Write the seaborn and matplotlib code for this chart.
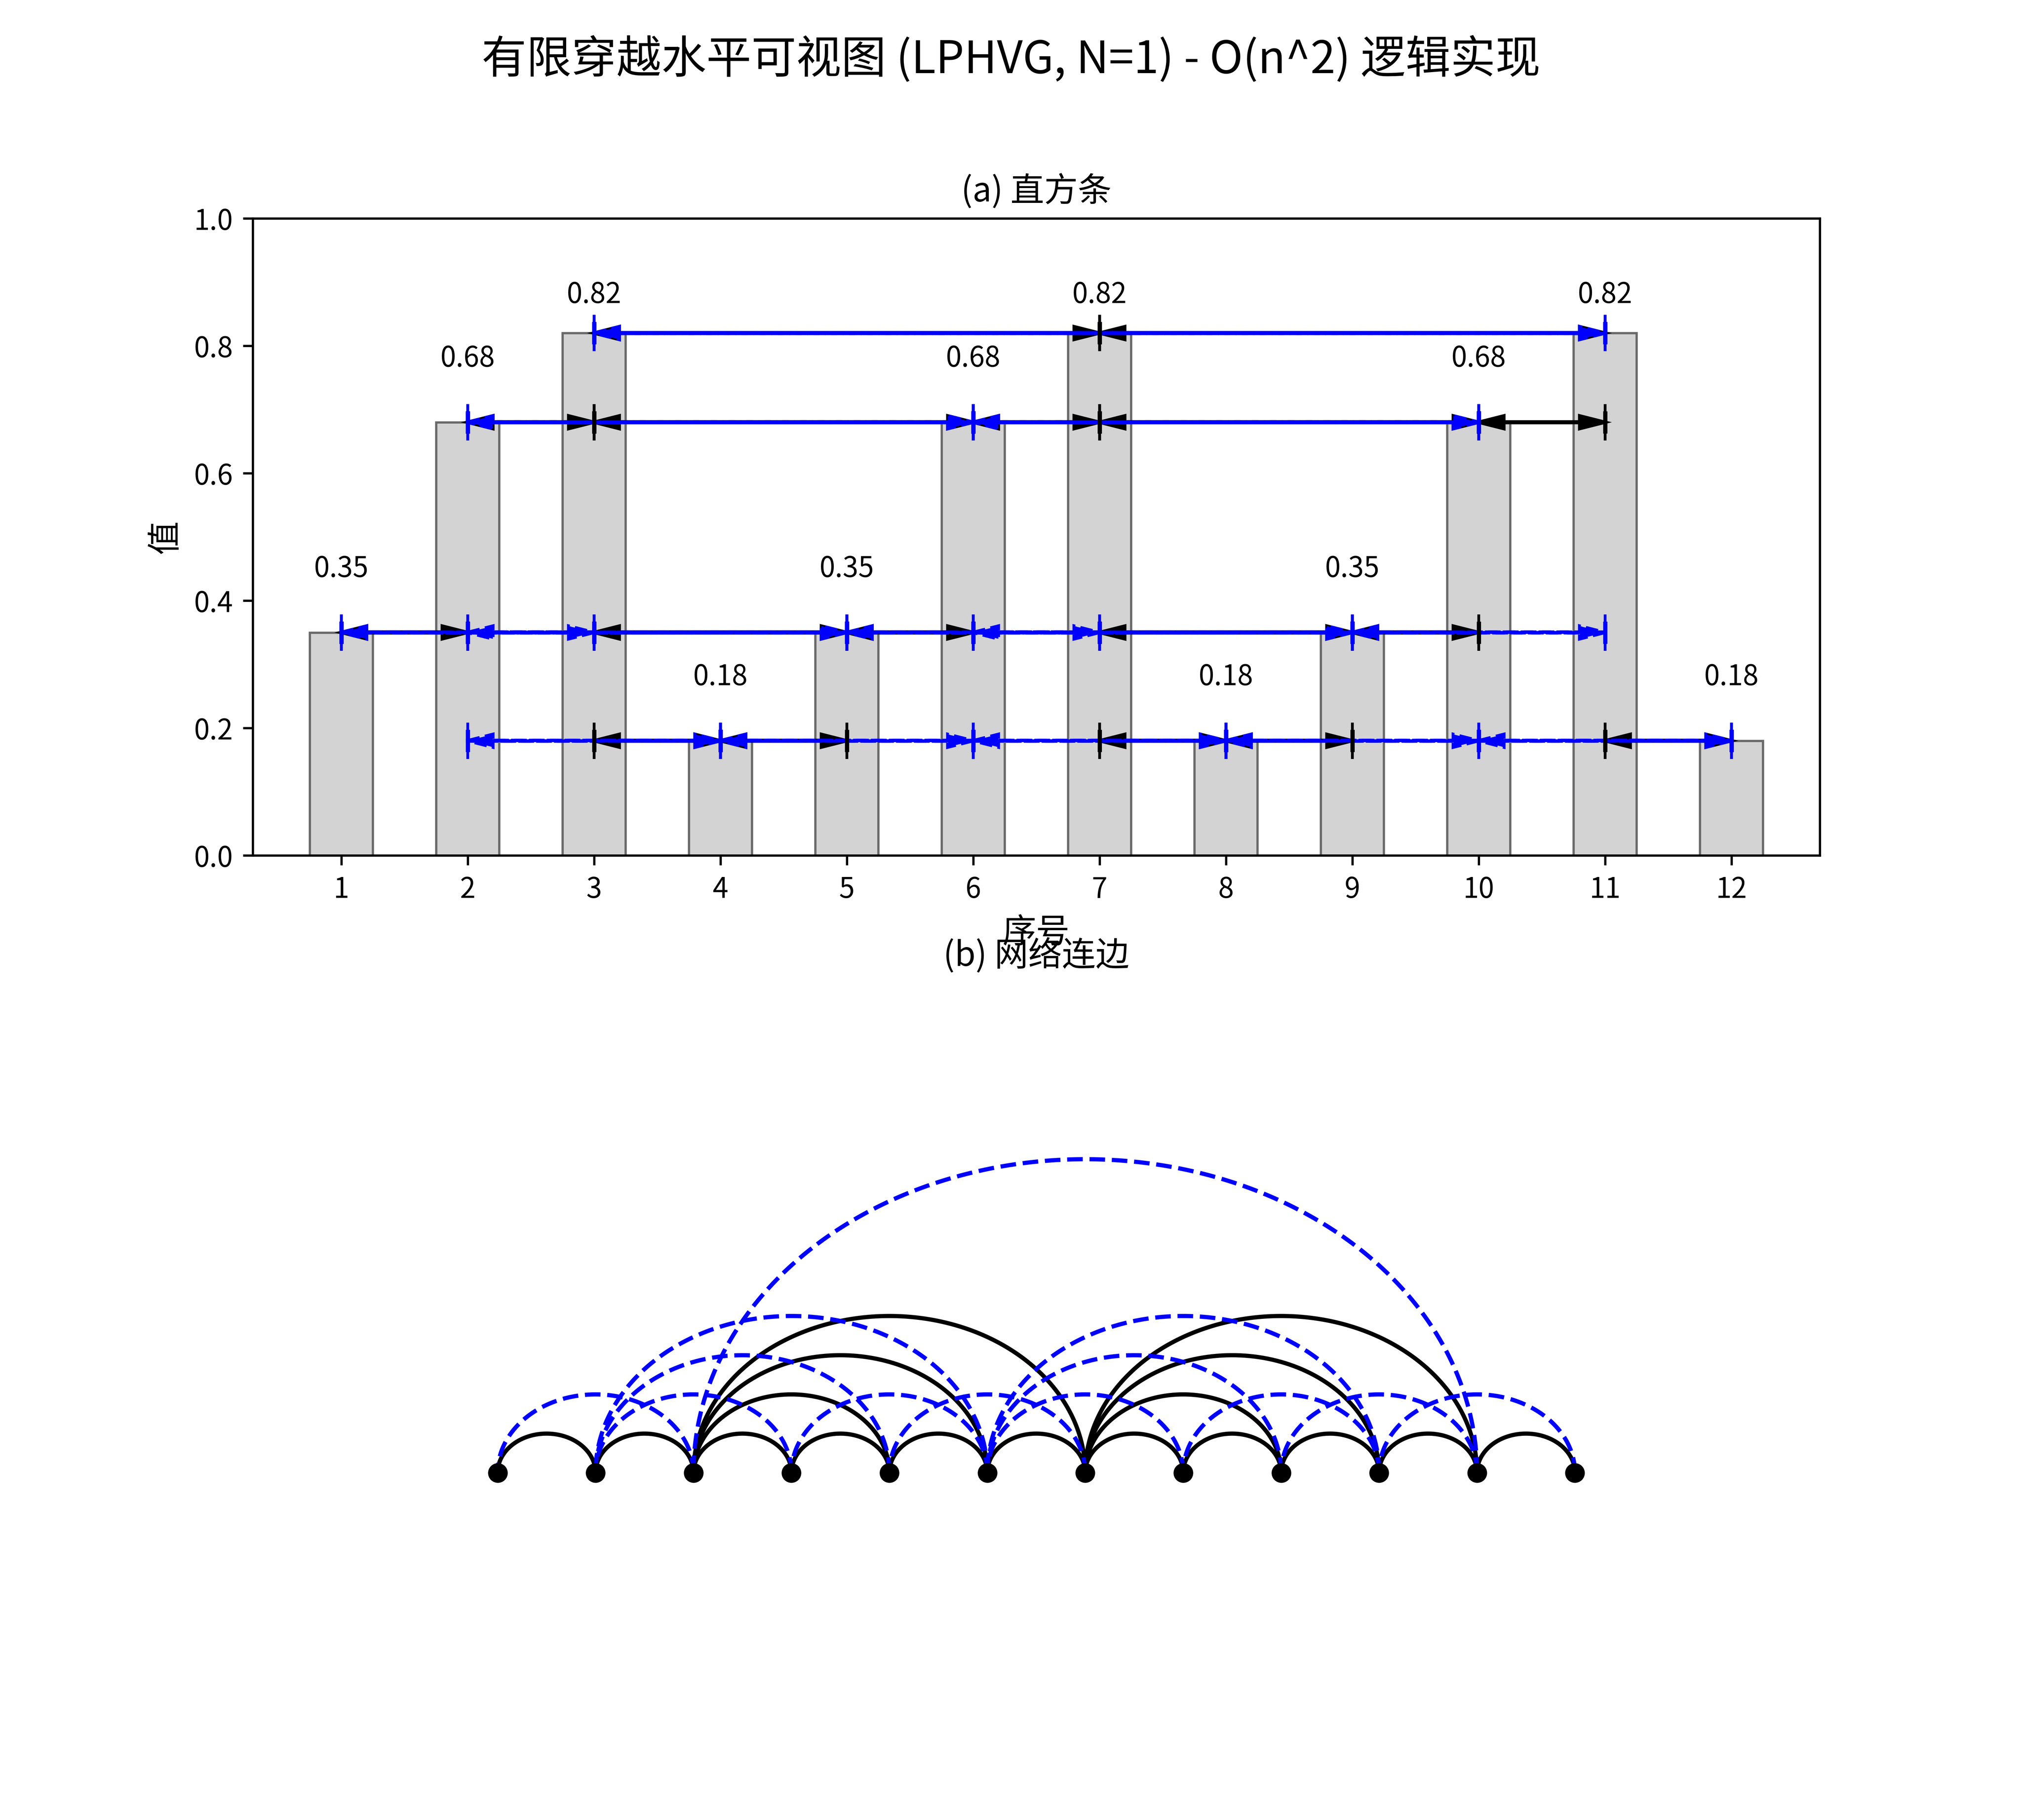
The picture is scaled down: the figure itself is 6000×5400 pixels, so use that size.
import numpy as np
import matplotlib
matplotlib.use("Agg")
from matplotlib import pyplot as plt
import seaborn as sns

plt.rcParams['font.family'] = ['Noto Sans CJK SC', 'DejaVu Sans']
plt.rcParams['axes.unicode_minus'] = False

# series values and their positions (1..12)
positions = [1, 2, 3, 4, 5, 6, 7, 8, 9, 10, 11, 12]
values = [0.35, 0.68, 0.82, 0.18, 0.35, 0.68, 0.82, 0.18, 0.35, 0.68, 0.82, 0.18]

# edges (pairs of positions)
hvg_edges = [(1, 2), (2, 3), (3, 4), (4, 5), (5, 6), (6, 7), (7, 8), (8, 9),
             (9, 10), (10, 11), (11, 12), (3, 5), (3, 6), (3, 7), (7, 9),
             (7, 10), (7, 11)]
pen_edges = [(1, 3), (2, 4), (2, 5), (2, 6), (3, 11), (4, 6), (5, 7), (6, 8),
             (6, 9), (6, 10), (8, 10), (9, 11), (10, 12)]


def draw_edge(ax, a, b, color, ls):
    """double headed horizontal arrow between bar a and bar b"""
    h = min(values[a - 1], values[b - 1])
    for s, e in ((a, b), (b, a)):
        ax.arrow(s, h, e - s, 0, width=0.001, head_width=0.02, head_length=0.2,
                 length_includes_head=True, color=color, lw=1.2, ls=ls)
    ax.plot([a, b], [h, h], ls='none', marker='|', ms=13, mew=1, color=color)
    ax.plot([a, b], [h, h], ls='none', marker='|', ms=8, mew=1.5, color=color)


def draw_arc(ax, a, b, color, ls):
    """half ellipse between node a and node b"""
    c = (a + b) / 2
    r = (b - a) / 2
    t = np.linspace(0, np.pi, 200)
    ax.plot(c + r * np.cos(t), 0.8 * r * np.sin(t), color=color, ls=ls, lw=1.5)


fig, (ax1, ax2) = plt.subplots(2, 1, figsize=(10, 9))

# (a) bars with visibility arrows
sns.barplot(x=positions, y=values, native_scale=True, width=0.5,
            color='lightgray', edgecolor='dimgray', linewidth=0.8,
            saturation=1, errorbar=None, ax=ax1)
for a, b in hvg_edges:
    draw_edge(ax1, a, b, 'black', '-')
for a, b in pen_edges:
    draw_edge(ax1, a, b, 'blue', '--')
for x, v in zip(positions, values):
    # labels sit 0.1 above the bar, but stay inside the top of the axes
    ax1.text(x, min(v + 0.1, 0.88), f'{v:.2f}', ha='center', va='center',
             fontsize=10)
ax1.set_xlim(0.3, 12.7)
ax1.set_ylim(0, 1)
ax1.set_xticks(positions)
ax1.set_xticklabels([str(p) for p in positions])
ax1.set_xlabel('序号', fontsize=12)
ax1.set_ylabel('值', fontsize=12)
ax1.set_title('(a) 直方条', fontsize=12)

# (b) arc diagram of the network
for a, b in hvg_edges:
    draw_arc(ax2, a, b, 'black', '-')
for a, b in pen_edges:
    draw_arc(ax2, a, b, 'blue', '--')
ax2.plot(positions, [0] * len(positions), 'o', color='black', ms=6, zorder=3)
ax2.set_xlim(-1.5, 14.5)
ax2.set_ylim(-1.5, 5)
ax2.axis('off')
ax2.set_title('(b) 网络连边', fontsize=12)

fig.suptitle('有限穿越水平可视图 (LPHVG, N=1) - O(n^2) 逻辑实现', fontsize=16)
plt.savefig('out.png', dpi=600)
